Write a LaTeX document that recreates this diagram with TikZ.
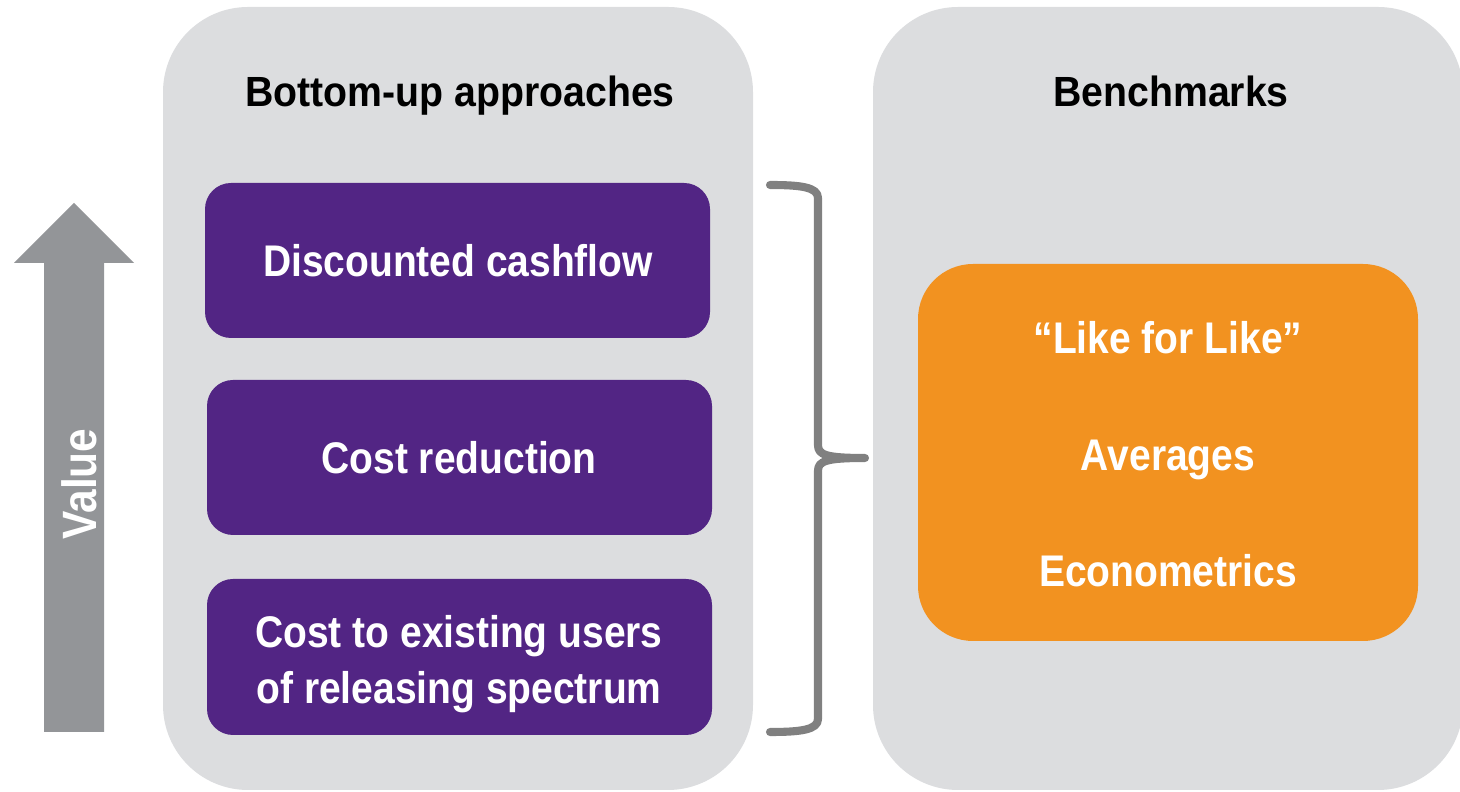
\documentclass[tikz,border=0pt]{standalone}
\usepackage{fontspec}
\setmainfont{Liberation Sans}[FakeStretch=0.88]
\newfontfamily\titlefont{Liberation Sans}[FakeStretch=0.93]
\definecolor{panelgray}{HTML}{DCDDDF}
\definecolor{vpurple}{HTML}{522584}
\definecolor{vorange}{HTML}{F29220}
\definecolor{arrowgray}{HTML}{939598}
\definecolor{bracegray}{HTML}{808080}
\tikzset{
  panel/.style={fill=panelgray, draw=none, rounded corners=0.85cm},
  pbox/.style={fill=vpurple, draw=none, rounded corners=0.26cm},
  obox/.style={fill=vorange, draw=none, rounded corners=0.55cm},
  title/.style={anchor=base, font=\titlefont\bfseries\fontsize{12}{14}\selectfont, text=black, inner sep=0pt},
  btext/.style={anchor=base, font=\bfseries\fontsize{12.6}{15}\selectfont, text=white, inner sep=0pt},
}
\begin{document}
\begin{tikzpicture}[x=0.01cm, y=-0.01cm]
\useasboundingbox (0,0) rectangle (1460,792);
\begin{scope}
\clip (0,0) rectangle (1460,792);
% panels
\fill[panel] (163,7) rectangle (753,790);
\fill[panel] (873,7) rectangle (1463,790);
\end{scope}
% titles
\node[title] (t1) at (460,107) {Bottom-up approaches};
\node[title] (t2) at (1171,107) {Benchmarks};
% purple boxes
\fill[pbox] (205,183) rectangle (710,338);
\fill[pbox] (207,380) rectangle (712,535);
\fill[pbox] (207,579) rectangle (712,735);
\node[btext] (b1) at (458,277) {Discounted cashflow};
\node[btext] (b2) at (459,474) {Cost reduction};
\node[btext] (b3a) at (459,648) {Cost to existing users};
\node[btext] (b3b) at (459,704) {of releasing spectrum};
% orange box
\fill[obox] (918,264) rectangle (1418,641);
\node[btext] (o1) at (1168,354) {“Like for Like”};
\node[btext] (o2) at (1168,471) {Averages};
\node[btext] (o3) at (1168,587) {Econometrics};
% value arrow
\fill[arrowgray] (44,732) -- (104,732) -- (104,263) -- (134,263) -- (74,203) -- (14,263) -- (44,263) -- cycle;
\node[btext, rotate=90, font=\bfseries\fontsize{13.7}{16}\selectfont] (val) at (96,484) {Value};
% brace
\draw[bracegray, line width=2.3pt, line cap=round, line join=round]
  (770,185) .. controls (800,185) and (818,187) .. (818,198)
  -- (818,445) .. controls (818,455) and (826,458) .. (865,458)
  .. controls (826,458) and (818,461) .. (818,471)
  -- (818,719) .. controls (818,730) and (800,732) .. (770,732);
\end{tikzpicture}
\end{document}
